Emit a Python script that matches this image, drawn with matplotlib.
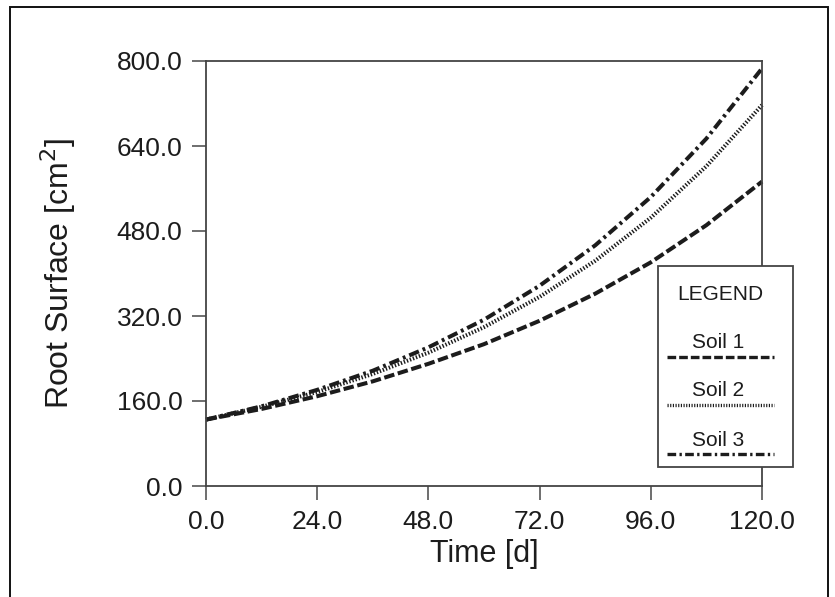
import matplotlib.pyplot as plt
from matplotlib.lines import Line2D
from matplotlib.patches import Rectangle

# values, every 12 days
time_d = [0, 12, 24, 36, 48, 60, 72, 84, 96, 108, 120]
soil1 = [125, 145, 169, 197, 230, 267, 311, 362, 421, 491, 573]
soil2 = [125, 149, 177, 211, 251, 299, 356, 424, 505, 602, 717]
soil3 = [125, 150, 181, 217, 261, 313, 377, 453, 544, 654, 786]
series_names = ['Soil 1', 'Soil 2', 'Soil 3']

xticks = [0, 24, 48, 72, 96, 120]
yticks = [0, 160, 320, 480, 640, 800]

plt.rcParams['font.family'] = ['Liberation Sans', 'DejaVu Sans']

W, H = 835, 597
fig = plt.figure(figsize=(W / 100, H / 100), dpi=100)
ax = fig.add_axes([206 / W, 1 - 486 / H, (762 - 206) / W, (486 - 61) / H])

ink = '#1c1c1c'
lw = 2.9
styles = [
    dict(dashes=(2.6, 0.9)),
    dict(dashes=(0.35, 0.45)),
    dict(dashes=(2.6, 1.0, 0.7, 1.0)),
]

for vals, st in zip([soil1, soil2, soil3], styles):
    ax.plot(time_d, vals, color=ink, lw=lw, dash_capstyle='butt',
            solid_capstyle='butt', clip_on=False, **st)

ax.set_xlim(0, 120)
ax.set_ylim(0, 800)
ax.set_xticks(xticks)
ax.set_yticks(yticks)
ax.set_xticklabels([f'{v:.1f}' for v in xticks])
ax.set_yticklabels([f'{v:.1f}' for v in yticks])
ax.tick_params(direction='out', length=10, width=1.2, color='#555555',
               labelsize=19, labelcolor=ink, pad=7)
for s in ax.spines.values():
    s.set_color('#444444')
    s.set_linewidth(1.3)

ax.set_xlabel('Time [d]', fontsize=22, color=ink, labelpad=4)
ax.set_ylabel('Root Surface [cm$^2$]', fontsize=23, color=ink, labelpad=28)

# legend box drawn by hand: label above its line sample
lx0, lx1, ly0, ly1 = 658, 793, 266, 467
fig.patches.append(Rectangle((lx0 / W, 1 - ly1 / H), (lx1 - lx0) / W, (ly1 - ly0) / H,
                             transform=fig.transFigure, facecolor='white',
                             edgecolor='#444444', lw=1.3, zorder=5))
fig.text(720 / W, 1 - 294 / H, 'LEGEND', ha='center', va='center',
         fontsize=15, color=ink, zorder=6)
text_y = [343, 391, 440]
line_y = [357, 405, 454]
for name, st, ty, ly in zip(series_names, styles, text_y, line_y):
    fig.text(718 / W, 1 - ty / H, name, ha='center', va='center',
             fontsize=15, color=ink, zorder=6)
    fig.lines.append(Line2D([667 / W, 774 / W], [1 - ly / H, 1 - ly / H],
                            transform=fig.transFigure, color=ink, lw=2.4,
                            dash_capstyle='butt', zorder=6, **st))

# outer frame
fig.patches.append(Rectangle((10 / W, -0.02), 818 / W, 1 - 7 / H + 0.02,
                             transform=fig.transFigure, fill=False,
                             edgecolor='#111111', lw=1.4, zorder=0))

fig.savefig('out.png', dpi=100)
